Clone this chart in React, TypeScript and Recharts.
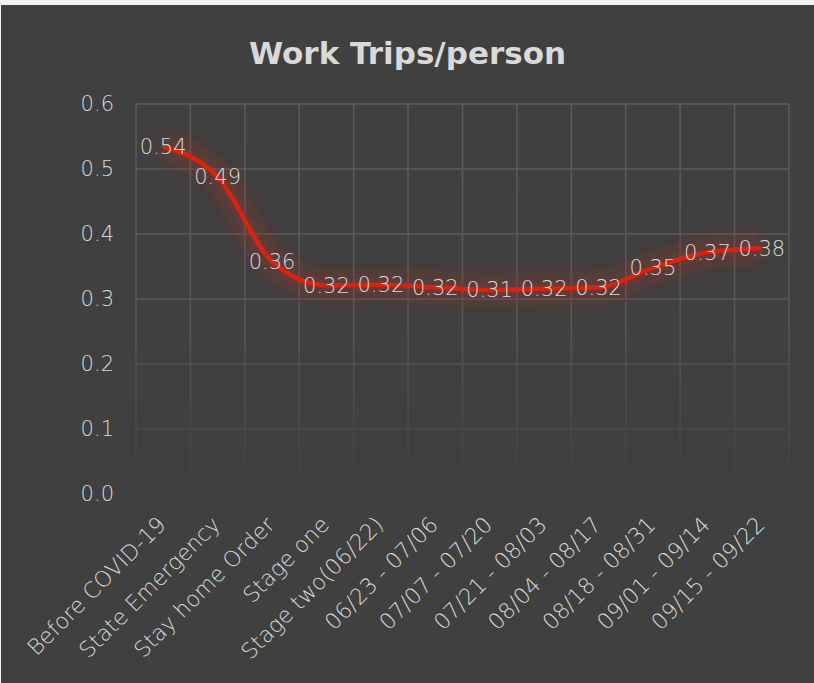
import React from 'react'
import { LineChart, Line, XAxis, YAxis, CartesianGrid, LabelList } from 'recharts'

const categories = [
  'Before COVID-19',
  'State Emergency',
  'Stay home Order',
  'Stage one',
  'Stage two(06/22)',
  '06/23 - 07/06',
  '07/07 - 07/20',
  '07/21 - 08/03',
  '08/04 - 08/17',
  '08/18 - 08/31',
  '09/01 - 09/14',
  '09/15 - 09/22'
]

const tripsPerPerson = [0.535, 0.488, 0.358, 0.321, 0.322, 0.318, 0.314, 0.316, 0.318, 0.348, 0.372, 0.378]

const yTicks = [0, 0.1, 0.2, 0.3, 0.4, 0.5, 0.6]

const data = categories.map((name, i) => ({ name, value: tripsPerPerson[i] }))

const FONT = '"DejaVu Sans", sans-serif'
const TEXT = '#d9d9d9'

const AngledTick = ({ x, y, payload }: any) => (
  <g transform={`translate(${x + 4},${y + 24})`}>
    <text
      x={0}
      y={0}
      textAnchor="end"
      transform="rotate(-45)"
      fill={TEXT}
      fontSize={22}
      fontWeight={200}
      fontFamily={FONT}
    >
      {payload.value}
    </text>
  </g>
)

export default function App() {
  return (
    <div style={{ position: 'relative', width: 814, height: 683, background: '#f2f2f2' }}>
      <style>{`body{margin:0} .glow-line .recharts-curve{filter:url(#redGlow)}`}</style>
      <svg width={0} height={0} style={{ position: 'absolute' }}>
        <defs>
          <filter id="redGlow" x="-20%" y="-80%" width="140%" height="260%">
            <feGaussianBlur stdDeviation="8" />
          </filter>
          <linearGradient id="gridFade" gradientUnits="userSpaceOnUse" x1="0" y1="99" x2="0" y2="489">
            <stop offset="0%" stopColor="#5c5c5c" />
            <stop offset="55%" stopColor="#575757" />
            <stop offset="82%" stopColor="#4a4a4a" />
            <stop offset="100%" stopColor="#404040" />
          </linearGradient>
        </defs>
      </svg>
      <div
        style={{
          position: 'absolute',
          left: 1,
          top: 5,
          width: 813,
          height: 678,
          background: '#404040'
        }}
      >
        <div
          style={{
            position: 'absolute',
            top: 33,
            left: 0,
            width: '100%',
            textAlign: 'center',
            fontFamily: FONT,
            fontWeight: 'bold',
            fontSize: 31,
            lineHeight: 1,
            color: TEXT
          }}
        >
          Work Trips/person
        </div>
        <LineChart
          width={813}
          height={678}
          data={data}
          margin={{ top: 99, right: 25, left: 75, bottom: 0 }}
        >
          <CartesianGrid
            stroke="url(#gridFade)"
            strokeWidth={1.5}
            verticalCoordinatesGenerator={({ offset }: any) =>
              categories.map((_, i) => offset.left + (i * offset.width) / categories.length)
                .concat(offset.left + offset.width)
            }
          />
          <XAxis
            dataKey="name"
            scale="band"
            interval={0}
            height={189}
            axisLine={false}
            tickLine={false}
            tick={<AngledTick />}
          />
          <YAxis
            domain={[0, 0.6]}
            ticks={yTicks}
            width={60}
            axisLine={false}
            tickLine={false}
            tickSize={0}
            tickMargin={22}
            tickFormatter={(v: number) => v.toFixed(1)}
            tick={{ fill: TEXT, fontSize: 21, fontWeight: 200, fontFamily: FONT }}
          />
          <Line
            className="glow-line"
            dataKey="value"
            type="monotone"
            stroke="#b82418"
            strokeOpacity={0.32}
            strokeWidth={24}
            dot={false}
            activeDot={false}
            isAnimationActive={false}
          />
          <Line
            dataKey="value"
            type="monotone"
            stroke="#d9230f"
            strokeWidth={4.5}
            dot={false}
            activeDot={false}
            isAnimationActive={false}
          >
            <LabelList
              dataKey="value"
              position="center"
              formatter={(v: any) => Number(v).toFixed(2)}
              fill={TEXT}
              fontSize={21}
              fontWeight={200}
              fontFamily={FONT}
            />
          </Line>
        </LineChart>
      </div>
    </div>
  )
}
